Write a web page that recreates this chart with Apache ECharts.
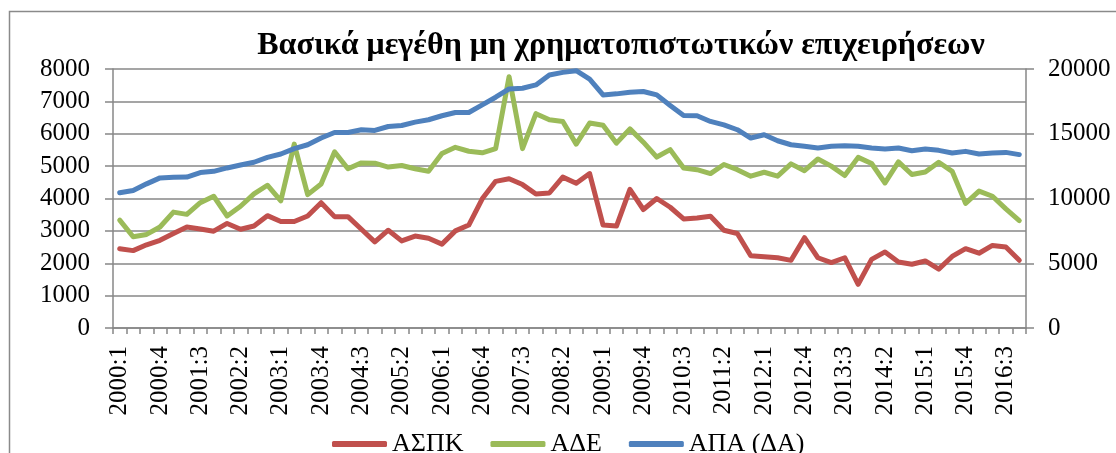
<!DOCTYPE html>
<html>
<head>
<meta charset="utf-8">
<script src="https://cdn.jsdelivr.net/npm/echarts@6/dist/echarts.min.js"></script>
<style>
  html, body { margin: 0; padding: 0; background: #fff; }
  #chart { width: 1116px; height: 453px; }
</style>
</head>
<body>
<div id="chart"></div>
<script>
// τρίμηνα 2000:1 - 2016:4
const years = [2000, 2001, 2002, 2003, 2004, 2005, 2006, 2007, 2008, 2009, 2010, 2011, 2012, 2013, 2014, 2015, 2016];
const quarters = [1, 2, 3, 4];
const categories = [];
years.forEach(y => quarters.forEach(q => categories.push(y + ':' + q)));

// ΑΣΠΚ (αριστερός άξονας)
const aspk = [2450, 2390, 2570, 2710, 2920, 3120, 3060, 2990, 3230, 3050, 3150, 3470, 3290, 3290, 3460, 3870,
  3440, 3440, 3050, 2660, 3020, 2690, 2840, 2770, 2590, 3000, 3180, 3990, 4530, 4610, 4430, 4140,
  4170, 4660, 4470, 4770, 3180, 3150, 4280, 3660, 4000, 3730, 3370, 3400, 3450, 3020, 2920, 2230,
  2200, 2170, 2090, 2790, 2170, 2020, 2170, 1350, 2120, 2350, 2040, 1970, 2070, 1820, 2210, 2450,
  2310, 2550, 2500, 2090];

// ΑΔΕ (αριστερός άξονας)
const ade = [3330, 2820, 2890, 3120, 3580, 3510, 3870, 4070, 3460, 3760, 4140, 4410, 3930, 5680, 4120, 4450,
  5440, 4920, 5100, 5090, 4970, 5020, 4920, 4840, 5390, 5580, 5460, 5410, 5540, 7760, 5540, 6620,
  6430, 6380, 5680, 6330, 6260, 5710, 6150, 5740, 5280, 5510, 4940, 4890, 4770, 5050, 4890, 4690,
  4810, 4690, 5070, 4860, 5220, 5000, 4710, 5270, 5080, 4480, 5130, 4740, 4820, 5120, 4840, 3850,
  4230, 4070, 3680, 3320];

// ΑΠΑ (δεξιός άξονας)
const apa = [10440, 10620, 11130, 11590, 11640, 11660, 12000, 12100, 12360, 12590, 12800, 13180, 13440, 13850, 14150, 14670,
  15100, 15100, 15310, 15260, 15560, 15640, 15900, 16080, 16390, 16640, 16640, 17230, 17820, 18460, 18510, 18770,
  19540, 19740, 19870, 19210, 18000, 18080, 18210, 18260, 18000, 17180, 16410, 16390, 15950, 15690, 15310, 14670,
  14920, 14460, 14150, 14030, 13900, 14030, 14080, 14030, 13900, 13820, 13900, 13690, 13820, 13720, 13510, 13640,
  13440, 13510, 13560, 13390];

const seriesNames = ['ΑΣΠΚ', 'ΑΔΕ', 'ΑΠΑ (ΔΑ)'];
const colors = ['#C0504D', '#9BBB59', '#4F81BD'];

const serif = '"Liberation Serif", "Times New Roman", serif';
const axisGray = '#878787';

const chart = echarts.init(document.getElementById('chart'), null, { renderer: 'canvas' });

const makeLine = (name, data, color, yIndex) => ({
  name: name,
  type: 'line',
  data: data,
  yAxisIndex: yIndex,
  showSymbol: false,
  symbol: 'none',
  lineStyle: { color: color, width: 5, cap: 'round', join: 'round' },
  itemStyle: { color: color },
  animation: false
});

chart.setOption({
  animation: false,
  textStyle: { fontFamily: serif },
  title: {
    text: 'Βασικά μεγέθη μη χρηματοπιστωτικών επιχειρήσεων',
    left: 616, top: 25, textAlign: 'center',
    textStyle: { fontFamily: serif, fontWeight: 'bold', fontSize: 32, color: '#000' }
  },
  graphic: [{
    type: 'rect', silent: true,
    shape: { x: 9.5, y: 11.5, width: 1130, height: 460 },
    style: { fill: 'none', stroke: '#8a8a8a', lineWidth: 1.5 }
  }],
  legend: {
    data: seriesNames,
    left: 327, top: 426,
    itemWidth: 55, itemHeight: 6, itemGap: 27,
    icon: 'roundRect',
    textStyle: { fontFamily: serif, fontSize: 26, color: '#000' }
  },
  grid: { left: 113, right: 90, top: 69, bottom: 125 },
  xAxis: {
    type: 'category',
    data: categories,
    boundaryGap: true,
    axisLine: { show: true, lineStyle: { color: axisGray, width: 1.5 } },
    axisTick: { show: true, interval: 0, length: 6, lineStyle: { color: axisGray, width: 1.5 } },
    axisLabel: { interval: 2, rotate: 90, margin: 18, fontFamily: serif, fontSize: 25, color: '#000' },
    splitLine: { show: false }
  },
  yAxis: [{
    type: 'value',
    min: 0, max: 8000, interval: 1000,
    axisLine: { show: true, lineStyle: { color: axisGray, width: 1.5 } },
    axisTick: { show: true, length: 8, lineStyle: { color: axisGray, width: 1.5 } },
    axisLabel: { margin: 23, fontFamily: serif, fontSize: 25, color: '#000', formatter: v => String(v) },
    splitLine: { show: true, lineStyle: { color: axisGray, width: 1.5 } }
  }, {
    type: 'value',
    min: 0, max: 20000, interval: 5000,
    position: 'right',
    axisLine: { show: true, lineStyle: { color: axisGray, width: 1.5 } },
    axisTick: { show: true, length: 8, lineStyle: { color: axisGray, width: 1.5 } },
    axisLabel: { margin: 22, fontFamily: serif, fontSize: 25, color: '#000', formatter: v => String(v) },
    splitLine: { show: false }
  }],
  series: [
    makeLine(seriesNames[0], aspk, colors[0], 0),
    makeLine(seriesNames[1], ade, colors[1], 0),
    makeLine(seriesNames[2], apa, colors[2], 1)
  ]
});

window.addEventListener('resize', () => chart.resize());
</script>
</body>
</html>
